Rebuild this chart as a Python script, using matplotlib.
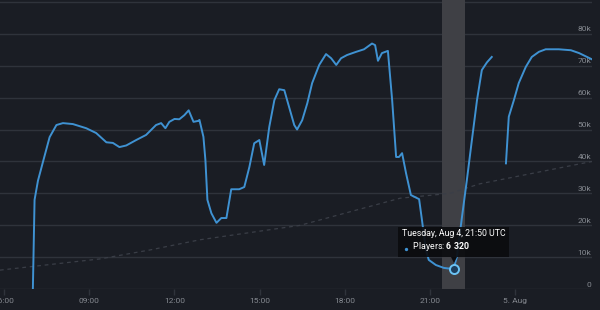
import matplotlib
matplotlib.use("Agg")
import numpy as np
import matplotlib.pyplot as plt
import matplotlib.transforms as mtransforms

# hours since Aug 4 00:00 UTC, players online (first stretch, before the gap)
hours_a = [7.01, 7.07, 7.19, 7.37, 7.60, 7.84, 8.07, 8.42, 8.89, 9.24, 9.60, 9.83,
           10.06, 10.30, 10.65, 11.00, 11.35, 11.53, 11.68, 11.82, 12.00, 12.17,
           12.35, 12.50, 12.67, 12.84, 12.88, 13.02, 13.09, 13.16, 13.30, 13.48,
           13.65, 13.83, 14.00, 14.28, 14.46, 14.64, 14.81, 14.99, 15.16, 15.34,
           15.52, 15.69, 15.87, 16.04, 16.22, 16.32, 16.50, 16.68, 16.85, 17.10,
           17.34, 17.52, 17.70, 17.87, 18.08, 18.40, 18.68, 18.96, 19.07, 19.17,
           19.31, 19.52, 19.67, 19.81, 19.91, 20.02, 20.16, 20.33, 20.62, 20.72,
           20.86, 20.96, 21.21, 21.49, 21.83, 21.95, 22.13, 22.30, 22.48, 22.66,
           22.83, 23.01, 23.18]
players_a = [0, 28000, 34000, 40000, 47600, 51400, 52000, 51700, 50400, 48900, 46000, 45800,
             44500, 45000, 46700, 48300, 51400, 52000, 50400, 52400, 53300, 53200,
             54500, 56000, 52400, 52700, 53000, 47700, 40400, 28000, 23800, 20800,
             22300, 22300, 31300, 31300, 32000, 38300, 45700, 46700, 38900, 50800,
             59200, 62600, 62300, 57000, 51400, 50000, 52900, 58200, 64500, 70200,
             73600, 72300, 70200, 72300, 73300, 74300, 75100, 76900, 76400, 71500,
             73900, 74600, 59200, 41400, 41400, 42600, 36300, 29500, 28200, 21700,
             12300, 9200, 7600, 6700, 6320, 10100, 22600, 34000, 46700, 59200,
             68600, 71000, 72700]

# second stretch, after the gap
hours_b = [23.68, 23.78, 23.96, 24.13, 24.38, 24.59, 24.84, 25.08, 25.54, 25.97, 26.26, 26.70]
players_b = [39400, 54000, 59200, 64500, 69600, 72700, 74300, 75100, 75100, 74800, 73900, 72000]

# faint dashed trend line
trend_hours = [5.85, 9.37, 11.13, 12.90, 16.42, 19.95, 21.70, 22.76, 26.71]
trend_values = [6000, 9500, 12300, 15500, 20000, 28500, 30000, 33000, 40000]

hover_hour = 21 + 50 / 60
hover_players = 6320
hover_title = "Tuesday, Aug 4, 21:50 UTC"
hover_label = "Players: "
hover_value = "6 320"

tick_hours = [6, 9, 12, 15, 18, 21, 24]
tick_labels = ["06:00", "09:00", "12:00", "15:00", "18:00", "21:00", "5. Aug"]
y_ticks = [0, 10000, 20000, 30000, 40000, 50000, 60000, 70000, 80000, 90000]
y_labels = ["0", "10k", "20k", "30k", "40k", "50k", "60k", "70k", "80k", ""]

BG = "#1a1d24"
GRID = "#2f333b"
LINE = "#3f92d2"
TEXT = "#858990"
TIP = "#0b0c0f"

plt.rcParams["font.family"] = ["Roboto", "DejaVu Sans"]
plt.rcParams["mathtext.fontset"] = "custom"
plt.rcParams["mathtext.bf"] = "Roboto:bold"
plt.rcParams["mathtext.rm"] = "Roboto"

fig = plt.figure(figsize=(6, 3.1), dpi=100)
fig.patch.set_facecolor(BG)
ax = fig.add_axes([0, 20.7 / 310, 592 / 600, 289.3 / 310])
ax.set_facecolor(BG)

ax.set_xlim(5.852, 26.712)
ax.set_ylim(0, 90520)

# grid
for v in y_ticks:
    ax.axhline(v, color=GRID, lw=1.0, zorder=1)

# hover band
ax.axvspan(hover_hour - 0.39, hover_hour + 0.42, color="#3f4045", lw=0, zorder=1.5)

# trend line
ax.plot(trend_hours, trend_values, color="#3a3e47", lw=0.9, ls=(0, (3, 3)), zorder=2)

# players
ax.plot(hours_a, players_a, color=LINE, lw=1.4, zorder=3, solid_joinstyle="round")
ax.plot(hours_b, players_b, color=LINE, lw=1.4, zorder=3, solid_joinstyle="round")

ax.plot([hover_hour], [hover_players], "o", ms=6.5, mfc="#1d3f5e", mec="#6cc4f5",
        mew=1.4, zorder=5)

# x axis
for s in ax.spines.values():
    s.set_visible(False)
ax.set_xticks(tick_hours)
ax.set_xticklabels(tick_labels)
ax.tick_params(axis="x", colors=GRID, labelcolor=TEXT, labelsize=6, length=4,
               width=1, pad=2)
ax.set_yticks([])

# y labels inside the plot, right aligned above grid lines
trans = mtransforms.blended_transform_factory(ax.transAxes, ax.transData)
for v, lab in zip(y_ticks, y_labels):
    ax.annotate(lab, xy=(1.0, v), xycoords=trans, xytext=(-1, 1.5),
                textcoords="offset pixels", ha="right", va="bottom",
                color=TEXT, fontsize=6, zorder=4)

# tooltip
ax.annotate(hover_title + "\n" + "     " + hover_label + r"$\mathbf{" + hover_value.replace(" ", r"\ ") + "}$",
            xy=(hover_hour, hover_players), xytext=(-52, 16),
            textcoords="offset pixels", ha="left", va="bottom", color="white",
            fontsize=6.3, linespacing=1.25, zorder=6,
            bbox=dict(boxstyle="square,pad=0.45", fc=TIP, ec="none", alpha=0.92))
px = fig.dpi / 72.0
bullet = ax.transData + mtransforms.ScaledTranslation(-48 / fig.dpi, 20 / fig.dpi, fig.dpi_scale_trans)
ax.plot([hover_hour], [hover_players], "o", ms=2.4, color=LINE, mew=0,
        transform=bullet, zorder=7)
notch = ax.transData + mtransforms.ScaledTranslation(0, 9.5 / fig.dpi, fig.dpi_scale_trans)
ax.plot([hover_hour], [hover_players], "v", ms=4, color=TIP, mew=0,
        transform=notch, zorder=6)

fig.savefig("out.png", dpi=100, facecolor=BG)
